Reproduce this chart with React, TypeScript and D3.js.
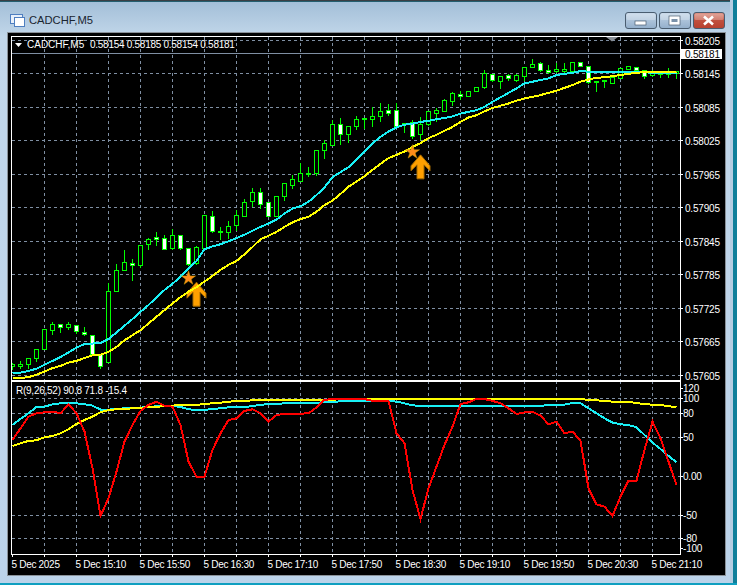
import React from 'react'
import { line, scaleLinear, symbol, symbolStar } from 'd3'

// candles, in points (1 point = 0.00001)
const opens = [
  57621,57621,57624,57635,57651,57685,57697,57690,57695,57681,
  57677,57642,57628,57756,57792,57806,57801,57839,57852,57850,
  57832,57855,57832,57805,57832,57890,57861,57861,57873,57889,
  57916,57933,57915,57890,57925,57946,57952,57965,57967,58008,
  58017,58055,58037,58051,58064,58064,58069,58079,58079,58054,
  58058,58036,58055,58074,58077,58095,58109,58104,58113,58120,
  58144,58131,58143,58133,58140,58156,58164,58151,58150,58150,
  58150,58165,58158,58129,58132,58128,58137,58153,58156,58151,
  58142,58145,58145,58145,
]
const highs = [
  57628,57631,57636,57652,57688,57701,57698,57702,57695,57692,
  57677,57642,57771,57805,57831,57815,57838,57852,57862,57858,
  57868,57858,57832,57838,57891,57900,57872,57883,57902,57922,
  57942,57942,57915,57926,57949,57964,57986,57979,58009,58027,
  58063,58067,58051,58071,58066,58086,58094,58092,58094,58057,
  58063,58068,58077,58085,58101,58113,58116,58116,58123,58152,
  58145,58141,58146,58145,58157,58173,58168,58161,58166,58166,
  58166,58168,58159,58131,58134,58138,58155,58159,58156,58153,
  58153,58146,58157,58149,
]
const lows = [
  57616,57618,57618,57630,57651,57678,57681,57687,57680,57676,
  57642,57617,57628,57756,57792,57775,57798,57831,57838,57830,
  57831,57831,57802,57804,57832,57861,57848,57850,57865,57889,
  57907,57904,57890,57890,57919,57940,57952,57961,57963,57993,
  58016,58018,58022,58046,58048,58051,58060,58071,58049,58040,
  58030,58027,58052,58060,58077,58088,58100,58104,58113,58119,
  58132,58119,58134,58132,58134,58156,58149,58145,58147,58148,
  58150,58159,58128,58113,58121,58128,58137,58153,58151,58136,
  58140,58139,58139,58136,
]
const closes = [
  57625,57624,57636,57652,57688,57697,57690,57697,57683,57678,
  57642,57621,57756,57792,57808,57801,57838,57848,57849,57830,
  57855,57832,57803,57834,57891,57863,57862,57871,57891,57915,
  57933,57911,57890,57926,57949,57955,57966,57967,58008,58020,
  58055,58037,58051,58064,58066,58069,58077,58074,58051,58057,
  58033,58055,58077,58079,58098,58110,58104,58114,58121,58145,
  58134,58141,58136,58143,58157,58162,58151,58147,58152,58152,
  58166,58159,58130,58131,58134,58138,58155,58159,58151,58140,
  58147,58146,58146,58149,
]
// moving averages on the price panel
const maFast = [
  57609,57610,57613,57617,57624,57631,57638,57646,57655,57661,
  57662,57663,57670,57682,57694,57706,57719,57731,57745,57758,
  57769,57782,57796,57810,57831,57836,57840,57845,57851,57857,
  57864,57871,57877,57884,57895,57904,57908,57916,57928,57942,
  57960,57969,57978,57991,58006,58021,58032,58042,58049,58054,
  58056,58059,58061,58064,58066,58069,58074,58077,58080,58086,
  58095,58103,58111,58119,58128,58131,58134,58137,58143,58145,
  58147,58150,58149,58148,58148,58148,58149,58149,58148,58148,
  58147,58147,58146,58146,
]
const maSlow = [
  57600,57600,57602,57606,57612,57618,57622,57628,57631,57636,
  57641,57642,57647,57656,57668,57677,57686,57698,57710,57722,
  57734,57745,57755,57763,57773,57783,57794,57803,57810,57822,
  57835,57849,57855,57862,57871,57879,57885,57889,57898,57910,
  57918,57930,57943,57952,57962,57973,57984,57994,58000,58006,
  58014,58021,58030,58036,58043,58050,58059,58067,58071,58078,
  58084,58088,58092,58097,58101,58104,58107,58111,58115,58120,
  58125,58131,58135,58138,58139,58141,58143,58145,58147,58148,
  58148,58148,58148,58149,
]
// lower panel R(9,26,52)
const rFast = [
  46.6,61.5,76.5,80.8,82,83,80.8,92.3,80.8,57.3,
  10.3,-50.9,-28.2,6,44.4,65.8,83.8,91.5,95.7,90.6,
  89.3,65.8,18.8,-0.4,-0.4,33.8,55.1,72.2,74.4,83.8,
  85.9,80.8,70.1,78.6,79.9,80.3,80.3,80.8,88.5,97.9,
  99.1,99.1,99.1,99.1,99.1,96.6,96.6,96.6,55.1,42.3,
  -17.5,-54.7,-15.4,12.4,40.2,63.7,92.7,94.9,99.1,99.1,
  96.6,93.6,87.2,79.9,82,82.9,77.8,66.7,70.1,55.1,
  57.3,45.7,-15.4,-35.9,-38.9,-50.9,-26.1,-5.6,-5.6,33.8,
  70.1,48.7,18.8,-11.1,
]
const rMid = [
  65.8,73.5,80.8,88.9,89.3,92.3,93.6,94.4,93.6,92.3,
  90.6,85.5,85.5,86.3,87.2,87.2,88,88.9,89.7,90.2,
  90.2,88.9,85.9,85,85,86.3,87.2,88.5,88.5,88.5,
  90.2,91.5,92.7,92.7,93.6,94,94.4,94.4,94.4,94.9,
  95.3,96.2,96.2,96.2,96.6,96.6,96.6,96.6,95.7,93.6,
  91,90.2,90.2,90.2,90.2,90.2,90.2,90.2,90.2,90.2,
  90.2,90.2,90.2,90.2,90.2,90.2,90.6,91,91.5,91.9,
  94,93.6,87.2,80.8,74.4,68.8,66.7,65.8,62.8,53,
  43.2,35,26.1,17.9,
]
const rSlow = [
  38.9,42.3,45.3,46.2,50,51.7,55.1,60.3,67.1,72.2,
  76.5,82.1,85,85.9,86.3,87.2,88,88.5,89.3,89.7,
  90.6,91.5,91.5,91.5,92.7,93.6,94.4,95.7,96.2,96.6,
  97.4,97.9,98.3,98.3,98.3,98.3,98.3,98.3,98.3,98.3,
  98.3,98.7,98.7,98.7,98.7,98.7,98.7,98.7,98.7,98.7,
  98.7,98.7,98.7,98.7,98.7,98.7,98.7,98.7,98.7,98.7,
  98.7,98.7,98.7,98.7,98.7,98.7,98.7,98.7,98.7,98.7,
  98.7,99.6,97.4,97.4,96.6,95.7,95.3,95.3,94,92.3,
  91.9,91.5,89.7,88.9,
]

const priceTicks = [58205,58145,58085,58025,57965,57905,57845,57785,57725,57665,57605]
const rGrid = [100,80,50,0,-50,-80]
const rLabels = [
  {text:'120', v:113},{text:'100', v:100},{text:'80', v:80},{text:'50', v:50},
  {text:'0.00', v:0},{text:'-50', v:-50},{text:'-80', v:-80},{text:'-100', v:-92},
]
const timeBars = [0,8,16,24,32,40,48,56,64,72,80]
const timeLabels = ['5 Dec 2025','5 Dec 15:10','5 Dec 15:50','5 Dec 16:30','5 Dec 17:10','5 Dec 17:50','5 Dec 18:30','5 Dec 19:10','5 Dec 19:50','5 Dec 20:30','5 Dec 21:10']
const gridBars = [4,8,12,16,20,24,28,32,36,40,44,48,52,56,60,64,68,72,76,80]
const bidPrice = 58181
const starSignals = [{bar:22, price:57779},{bar:50, price:58005}]
const arrowSignals = [{bar:23, price:57772},{bar:51, price:58000}]

const margin = {left: 12, top: 37, right: 680, mainBottom: 380, subTop: 381, subBottom: 554}
const FONT = '"Liberation Sans", Arial, sans-serif'
const GRID = '#7f8fa3'
const LIME = '#00ff00'
const LABEL_SPACING = -0.2

const x = scaleLinear().domain([0, 83]).range([12.5, 676.5])
const y = scaleLinear().domain([57605, 58205]).range([375.4, 40.4])
const yR = scaleLinear().domain([0, 100]).range([476.3, 398.3])
const snap = (v:number) => Math.round(v - 0.5) + 0.5

const priceLine = line<number>().x((_, i) => x(i)).y(d => y(d))
const rLine = line<number>().x((_, i) => x(i)).y(d => yR(d))
const starPath = symbol().type(symbolStar).size(62)() ?? ''
const ARROW = 'M0 0L9.5 11V16L3.5 10V24H-3.5V10L-9.5 16V11Z'

function WinButton(props: Readonly<{x:number, w:number, fill:string, children?:React.ReactNode}>) {
    return (
        <g transform={`translate(${props.x},12)`}>
            <rect x={0.5} y={0.5} width={props.w} height={16} rx={2.5} fill={props.fill} stroke='#4a5d70'/>
            <rect x={1.5} y={1.5} width={props.w - 2} height={6.5} rx={1.5} fill='#ffffff' opacity={0.25}/>
            {props.children}
        </g>
    )
}

export default function App() {
    return (
        <svg width={737} height={585} style={{position:'absolute', left:0, top:0, display:'block'}} fontFamily={FONT}>
            <defs>
                <linearGradient id='frame' x1='0' y1='0' x2='0' y2='1'>
                    <stop offset='0' stopColor='#a3bfd8'/>
                    <stop offset='0.06' stopColor='#c2d7ea'/>
                    <stop offset='1' stopColor='#bcd3ea'/>
                </linearGradient>
                <linearGradient id='closeBtn' x1='0' y1='0' x2='0' y2='1'>
                    <stop offset='0' stopColor='#d98a7c'/>
                    <stop offset='0.5' stopColor='#c0503e'/>
                    <stop offset='1' stopColor='#b8402e'/>
                </linearGradient>
                <linearGradient id='winBtn' x1='0' y1='0' x2='0' y2='1'>
                    <stop offset='0' stopColor='#c4d6e8'/>
                    <stop offset='1' stopColor='#93afcb'/>
                </linearGradient>
                <clipPath id='mainClip'><rect x={12} y={37} width={668} height={343}/></clipPath>
                <clipPath id='subClip'><rect x={12} y={382} width={668} height={172}/></clipPath>
            </defs>

            {/* window frame */}
            <rect x={0} y={0} width={737} height={585} fill='#0f7f9a'/>
            <rect x={0} y={2} width={735} height={581} fill='url(#frame)'/>
            <rect x={0} y={0} width={737} height={1.5} fill='#3a3f44'/>
            <rect x={730} y={0} width={7} height={585} fill='#b5cde2'/>
            <rect x={733} y={0} width={4} height={585} fill='#0f7f9a'/>
            <rect x={0} y={583} width={737} height={2} fill='#0f9fc0'/>
            <rect x={7.5} y={32.5} width={718} height={543} fill='#000000' stroke='#8a9198'/>

            {/* title bar */}
            <rect x={10.5} y={14.5} width={12} height={9} fill='#e8f0fa' stroke='#4f7fc0'/>
            <rect x={14.5} y={17.5} width={10} height={9} fill='#ffffff' stroke='#4f7fc0'/>
            <text x={29} y={24} fontSize={11.2} fill='#1a2530'>CADCHF,M5</text>
            <WinButton x={625} w={31} fill='url(#winBtn)'>
                <rect x={10} y={9} width={11} height={4} fill='#ffffff' stroke='#4a5d70' strokeWidth={0.7}/>
            </WinButton>
            <WinButton x={659} w={31} fill='url(#winBtn)'>
                <rect x={10} y={4} width={11} height={9} fill='#ffffff' stroke='#4a5d70' strokeWidth={0.7}/>
                <rect x={12.5} y={7} width={6} height={3} fill='#7b92aa'/>
            </WinButton>
            <WinButton x={693} w={31} fill='url(#closeBtn)'>
                <path d='M11 4.5L20 12.5M20 4.5L11 12.5' stroke='#ffffff' strokeWidth={2.6} fill='none'/>
            </WinButton>

            {/* grid */}
            <g shapeRendering='crispEdges' stroke={GRID} strokeDasharray='3,3' fill='none'>
                {priceTicks.map(p => (
                    <line key={p} x1={margin.left} x2={margin.right} y1={snap(y(p))} y2={snap(y(p))}/>
                ))}
                {rGrid.map(v => (
                    <line key={v} x1={margin.left} x2={margin.right} y1={snap(yR(v))} y2={snap(yR(v))}/>
                ))}
                {gridBars.map(b => (
                    <g key={b}>
                        <line x1={x(b)} x2={x(b)} y1={margin.top} y2={margin.mainBottom}/>
                        <line x1={x(b)} x2={x(b)} y1={margin.subTop} y2={margin.subBottom}/>
                    </g>
                ))}
            </g>
            <line x1={12} x2={680} y1={snap(y(bidPrice))} y2={snap(y(bidPrice))} stroke={GRID} shapeRendering='crispEdges'/>

            {/* price panel */}
            <g clipPath='url(#mainClip)'>
                {arrowSignals.map(s => (
                    <path key={s.bar} d={ARROW} transform={`translate(${x(s.bar)},${y(s.price)})`} fill='#ffa000' stroke='#a86c00' strokeWidth={1}/>
                ))}
                <g shapeRendering='crispEdges'>
                    {opens.map((o, i) => {
                        const cx = x(i)
                        const bear = closes[i] < o
                        const top = snap(y(Math.max(o, closes[i])))
                        const bottom = snap(y(Math.min(o, closes[i])))
                        return (
                            <g key={i}>
                                <line x1={cx} x2={cx} y1={snap(y(highs[i]))} y2={snap(y(lows[i]))} stroke={LIME}/>
                                <rect x={cx - 2} y={top} width={4} height={Math.max(bottom - top, 1)} fill={bear ? '#ffffff' : '#000000'} stroke={LIME}/>
                            </g>
                        )
                    })}
                </g>
                <g shapeRendering='crispEdges'>
                    <path d={priceLine(maFast) ?? ''} fill='none' stroke='#19f0f5' strokeWidth={2}/>
                    <path d={priceLine(maSlow) ?? ''} fill='none' stroke='#ffff00' strokeWidth={2}/>
                </g>
                {starSignals.map(s => (
                    <path key={s.bar} d={starPath} transform={`translate(${x(s.bar)},${y(s.price)})`} fill='#ff8c1a' stroke='#c8a000' strokeWidth={0.5}/>
                ))}
            </g>

            {/* lower panel */}
            <g clipPath='url(#subClip)' shapeRendering='crispEdges'>
                <path d={rLine(rMid) ?? ''} fill='none' stroke='#19f0f5' strokeWidth={2}/>
                <path d={rLine(rSlow) ?? ''} fill='none' stroke='#ffff00' strokeWidth={2}/>
                <path d={rLine(rFast) ?? ''} fill='none' stroke='#ff0000' strokeWidth={2}/>
            </g>

            {/* panel borders */}
            <g fill='none' stroke='#ffffff' shapeRendering='crispEdges'>
                <rect x={11.5} y={36.5} width={668.5} height={343.5}/>
                <rect x={11.5} y={381.5} width={668.5} height={172.5}/>
            </g>
            <path d='M606 37H618L612 41.5Z' fill='#8a8f96'/>

            {/* legends */}
            <path d='M15 43H22L18.5 47Z' fill='#ffffff'/>
            <text x={27} y={48} fontSize={10} fill='#ffffff'>CADCHF,M5</text>
            <text x={90} y={48} fontSize={10} letterSpacing={-0.27} fill='#ffffff'>0.58154 0.58185 0.58154 0.58181</text>
            <text x={16} y={394} fontSize={10} letterSpacing={-0.25} fill='#ffffff'>R(9,26,52) 90.8 71.8 -15.4</text>

            {/* right axis */}
            {priceTicks.map(p => (
                <g key={p}>
                    <line x1={680} x2={683} y1={snap(y(p))} y2={snap(y(p))} stroke='#ffffff' shapeRendering='crispEdges'/>
                    <text x={685} y={snap(y(p)) + 4.5} fontSize={10} letterSpacing={LABEL_SPACING} fill='#ffffff'>{(p / 100000).toFixed(5)}</text>
                </g>
            ))}
            <rect x={681} y={49} width={41} height={10} fill='#ffffff'/>
            <text x={685} y={58} fontSize={10} letterSpacing={LABEL_SPACING} fill='#000000'>{(bidPrice / 100000).toFixed(5)}</text>
            {rLabels.map(l => (
                <g key={l.text}>
                    <line x1={680} x2={683} y1={snap(yR(l.v))} y2={snap(yR(l.v))} stroke='#ffffff' shapeRendering='crispEdges'/>
                    <text x={683} y={snap(yR(l.v)) + 3.5} fontSize={10} letterSpacing={LABEL_SPACING} fill='#ffffff'>{l.text}</text>
                </g>
            ))}

            {/* time axis */}
            {timeBars.map((b, i) => (
                <text key={b} x={x(b) - 1} y={568} fontSize={10} letterSpacing={-0.3} fill='#ffffff'>{timeLabels[i]}</text>
            ))}
            {[0, ...gridBars].map(b => (
                <line key={b} x1={x(b)} x2={x(b)} y1={554} y2={557} stroke='#ffffff' shapeRendering='crispEdges'/>
            ))}
        </svg>
    )
}
